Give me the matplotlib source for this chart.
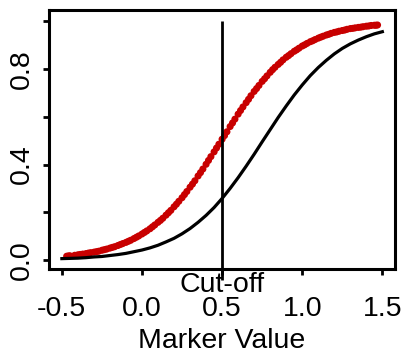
import matplotlib
matplotlib.use("Agg")
import matplotlib.pyplot as plt

plt.rcParams['font.family'] = ['Liberation Sans', 'DejaVu Sans']

# curva hitam
kurva_x = [-0.50, -0.45, -0.40, -0.35, -0.30, -0.25, -0.20, -0.15, -0.10, -0.05,
           0.00, 0.05, 0.10, 0.15, 0.20, 0.25, 0.30, 0.35, 0.40, 0.45,
           0.50, 0.55, 0.60, 0.65, 0.70, 0.75, 0.80, 0.85, 0.90, 0.95,
           1.00, 1.05, 1.10, 1.15, 1.20, 1.25, 1.30, 1.35, 1.40, 1.45, 1.50]
kurva_y = [0.006, 0.007, 0.008, 0.010, 0.013, 0.015, 0.019, 0.023, 0.028, 0.035,
           0.042, 0.051, 0.062, 0.076, 0.091, 0.110, 0.132, 0.158, 0.187, 0.220,
           0.258, 0.300, 0.345, 0.393, 0.443, 0.495, 0.546, 0.597, 0.645, 0.691,
           0.733, 0.772, 0.806, 0.836, 0.863, 0.886, 0.905, 0.921, 0.935, 0.947, 0.956]

# titik merah
titik_x = [-0.47, -0.46, -0.45, -0.42, -0.40, -0.385, -0.37, -0.35, -0.335, -0.32,
           -0.30, -0.285, -0.27, -0.25, -0.235, -0.22, -0.20, -0.185, -0.17, -0.15,
           -0.135, -0.12, -0.10, -0.085, -0.07, -0.05, -0.035, -0.02, 0.00, 0.015,
           0.03, 0.05, 0.065, 0.08, 0.10, 0.115, 0.13, 0.15, 0.165, 0.18,
           0.20, 0.215, 0.23, 0.25, 0.265, 0.28, 0.30, 0.315, 0.33, 0.35,
           0.365, 0.38, 0.40, 0.415, 0.43, 0.45, 0.465, 0.48, 0.50, 0.515,
           0.53, 0.55, 0.565, 0.58, 0.60, 0.615, 0.63, 0.65, 0.665, 0.68,
           0.70, 0.715, 0.73, 0.75, 0.765, 0.78, 0.80, 0.815, 0.83, 0.85,
           0.865, 0.88, 0.90, 0.915, 0.93, 0.95, 0.965, 0.98, 1.00, 1.015,
           1.03, 1.05, 1.065, 1.08, 1.10, 1.115, 1.13, 1.15, 1.165, 1.18,
           1.20, 1.215, 1.23, 1.25, 1.265, 1.28, 1.30, 1.315, 1.33, 1.35,
           1.365, 1.38, 1.40, 1.415, 1.43, 1.45, 1.46, 1.47]
titik_y = [0.016, 0.017, 0.018, 0.020, 0.022, 0.0235, 0.025, 0.027, 0.029, 0.031,
           0.033, 0.035, 0.037, 0.041, 0.0435, 0.046, 0.050, 0.053, 0.056, 0.061,
           0.065, 0.069, 0.074, 0.0785, 0.083, 0.090, 0.0955, 0.101, 0.109, 0.1155,
           0.122, 0.131, 0.139, 0.147, 0.158, 0.166, 0.175, 0.188, 0.198, 0.208,
           0.223, 0.234, 0.246, 0.261, 0.274, 0.287, 0.305, 0.318, 0.332, 0.352,
           0.366, 0.381, 0.401, 0.417, 0.433, 0.453, 0.469, 0.485, 0.506, 0.521,
           0.537, 0.559, 0.574, 0.590, 0.611, 0.626, 0.641, 0.659, 0.673, 0.688,
           0.706, 0.718, 0.731, 0.748, 0.759, 0.771, 0.786, 0.797, 0.807, 0.819,
           0.828, 0.838, 0.849, 0.856, 0.864, 0.874, 0.880, 0.887, 0.896, 0.901,
           0.907, 0.914, 0.918, 0.923, 0.929, 0.933, 0.937, 0.942, 0.945, 0.949,
           0.953, 0.955, 0.958, 0.961, 0.963, 0.966, 0.969, 0.970, 0.972, 0.974,
           0.975, 0.977, 0.979, 0.980, 0.982, 0.983, 0.983, 0.984]

cutoff = 0.5
x_ticks = [-0.5, 0.0, 0.5, 1.0, 1.5]
y_ticks = [0.0, 0.2, 0.4, 0.6, 0.8, 1.0]
y_labels = ['0.0', '', '0.4', '', '0.8', '']

fig = plt.figure(figsize=(4.02, 3.56), dpi=100)
ax = fig.add_axes([0.122, 0.244, 0.861, 0.728])

ax.scatter(titik_x, titik_y, s=26, color='#C80000', edgecolors='none', zorder=2)
ax.plot(kurva_x, kurva_y, color='black', lw=2.3, zorder=3)
ax.vlines(cutoff, -0.085, 1.0, color='black', lw=2.0, clip_on=False, zorder=4)
ax.text(cutoff, -0.105, 'Cut-off', ha='center', va='center', fontsize=20.5)

ax.set_xlim(-0.58, 1.58)
ax.set_ylim(-0.038, 1.047)
ax.set_xticks(x_ticks)
ax.set_xticklabels(['-0.5', '0.0', '0.5', '1.0', '1.5'])
ax.set_yticks(y_ticks)
ax.set_yticklabels(y_labels, rotation=90, va='center')
ax.tick_params(axis='both', labelsize=20.5, width=2, length=4.5, direction='out')
ax.tick_params(axis='x', pad=15)
ax.tick_params(axis='y', pad=6)
for s in ax.spines.values():
    s.set_linewidth(2.2)
ax.set_xlabel('Marker Value', fontsize=20.5, labelpad=4.5)

fig.savefig('out.png', dpi=100)
